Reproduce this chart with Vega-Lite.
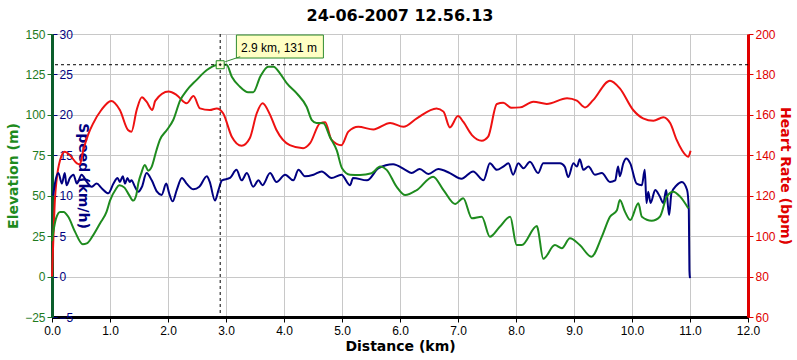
{
"$schema":"https://vega.github.io/schema/vega-lite/v6.json",
"width":696,"height":283,
"autosize":{"type":"none"},
"padding":{"left":52,"top":34,"right":49,"bottom":43},
"background":"white",
"title":{"text":"24-06-2007 12.56.13","font":"DejaVu Sans","fontSize":16,"fontWeight":"bold","color":"#000000","offset":11,"dy":20,"baseline":"alphabetic","anchor":"middle","frame":"group"},
"config":{"view":{"stroke":null}},
"datasets":{
"elev":[{"km":0.0,"elev":22},{"km":0.02,"elev":27},{"km":0.07,"elev":36},{"km":0.14,"elev":40},{"km":0.2,"elev":40},{"km":0.28,"elev":37},{"km":0.4,"elev":27.5},{"km":0.53,"elev":20},{"km":0.6,"elev":20.5},{"km":0.7,"elev":25},{"km":0.83,"elev":33},{"km":0.94,"elev":40},{"km":1.0,"elev":47},{"km":1.1,"elev":54},{"km":1.16,"elev":56.5},{"km":1.25,"elev":55},{"km":1.33,"elev":50.4},{"km":1.4,"elev":47},{"km":1.45,"elev":50},{"km":1.49,"elev":58},{"km":1.54,"elev":64},{"km":1.6,"elev":69},{"km":1.66,"elev":65.5},{"km":1.72,"elev":68},{"km":1.8,"elev":78},{"km":1.86,"elev":84.5},{"km":1.98,"elev":90.6},{"km":2.09,"elev":96.8},{"km":2.21,"elev":109},{"km":2.32,"elev":115},{"km":2.49,"elev":121.5},{"km":2.67,"elev":127.7},{"km":2.84,"elev":130.8},{"km":2.9,"elev":131},{"km":3.01,"elev":131},{"km":3.1,"elev":123.6},{"km":3.24,"elev":117.4},{"km":3.38,"elev":114},{"km":3.47,"elev":114},{"km":3.59,"elev":123.6},{"km":3.73,"elev":129.8},{"km":3.82,"elev":129.8},{"km":3.93,"elev":125.7},{"km":4.05,"elev":119.5},{"km":4.22,"elev":113.3},{"km":4.39,"elev":105},{"km":4.48,"elev":96.8},{"km":4.56,"elev":95},{"km":4.68,"elev":94.8},{"km":4.79,"elev":86.5},{"km":4.91,"elev":78},{"km":5.0,"elev":67},{"km":5.14,"elev":63},{"km":5.31,"elev":62.8},{"km":5.51,"elev":63.9},{"km":5.66,"elev":68},{"km":5.77,"elev":66},{"km":5.94,"elev":55.6},{"km":6.09,"elev":50.4},{"km":6.29,"elev":53.5},{"km":6.57,"elev":61.8},{"km":6.75,"elev":53.5},{"km":6.95,"elev":44.9},{"km":7.09,"elev":48.4},{"km":7.24,"elev":36},{"km":7.41,"elev":37},{"km":7.55,"elev":24.6},{"km":7.72,"elev":30.8},{"km":7.9,"elev":37},{"km":8.01,"elev":19.5},{"km":8.1,"elev":19.5},{"km":8.36,"elev":31.3},{"km":8.38,"elev":29},{"km":8.47,"elev":11},{"km":8.67,"elev":19.5},{"km":8.79,"elev":17.5},{"km":8.93,"elev":23.7},{"km":9.1,"elev":19.5},{"km":9.3,"elev":12.3},{"km":9.48,"elev":24.7},{"km":9.62,"elev":37},{"km":9.74,"elev":41},{"km":9.79,"elev":47.3},{"km":9.88,"elev":40},{"km":9.97,"elev":35},{"km":10.11,"elev":45.3},{"km":10.17,"elev":37},{"km":10.34,"elev":34.5},{"km":10.48,"elev":37},{"km":10.6,"elev":49.4},{"km":10.71,"elev":52.5},{"km":10.83,"elev":49.4},{"km":10.97,"elev":42.2}],
"hr":[{"km":0.0,"hr":80},{"km":0.02,"hr":96},{"km":0.05,"hr":118},{"km":0.08,"hr":128},{"km":0.14,"hr":137.7},{"km":0.22,"hr":141.8},{"km":0.31,"hr":140},{"km":0.43,"hr":136},{"km":0.48,"hr":135.5},{"km":0.54,"hr":142.6},{"km":0.62,"hr":150},{"km":0.71,"hr":155.8},{"km":0.85,"hr":162.4},{"km":1.02,"hr":166.9},{"km":1.17,"hr":162.4},{"km":1.31,"hr":152.5},{"km":1.37,"hr":151.7},{"km":1.46,"hr":162.4},{"km":1.55,"hr":168.7},{"km":1.63,"hr":166.5},{"km":1.73,"hr":162.4},{"km":1.78,"hr":166.9},{"km":2.01,"hr":171.5},{"km":2.15,"hr":169.8},{"km":2.32,"hr":165.7},{"km":2.44,"hr":169.3},{"km":2.55,"hr":163.2},{"km":2.72,"hr":162.4},{"km":2.84,"hr":163.2},{"km":2.95,"hr":160.8},{"km":3.1,"hr":149.2},{"km":3.27,"hr":144.7},{"km":3.41,"hr":148.4},{"km":3.53,"hr":160.8},{"km":3.63,"hr":165.7},{"km":3.76,"hr":160},{"km":3.87,"hr":152.5},{"km":4.1,"hr":145},{"km":4.33,"hr":143.5},{"km":4.45,"hr":146},{"km":4.62,"hr":155.8},{"km":4.71,"hr":156.4},{"km":4.82,"hr":147.6},{"km":4.99,"hr":145},{"km":5.11,"hr":151.7},{"km":5.28,"hr":154.1},{"km":5.54,"hr":152.8},{"km":5.83,"hr":156},{"km":6.06,"hr":154.1},{"km":6.29,"hr":158.3},{"km":6.63,"hr":163.2},{"km":6.75,"hr":161.6},{"km":6.86,"hr":153.8},{"km":7.0,"hr":159.4},{"km":7.09,"hr":156.6},{"km":7.24,"hr":150},{"km":7.41,"hr":147.2},{"km":7.52,"hr":149.2},{"km":7.67,"hr":165.4},{"km":7.78,"hr":166},{"km":7.92,"hr":163.5},{"km":8.07,"hr":163.7},{"km":8.3,"hr":166.5},{"km":8.53,"hr":165.4},{"km":8.88,"hr":168.2},{"km":9.05,"hr":167},{"km":9.19,"hr":163.7},{"km":9.33,"hr":167.3},{"km":9.62,"hr":176.9},{"km":9.79,"hr":173.1},{"km":10.02,"hr":162.4},{"km":10.19,"hr":158.3},{"km":10.37,"hr":157.1},{"km":10.54,"hr":158.8},{"km":10.66,"hr":155.8},{"km":10.77,"hr":147.6},{"km":10.86,"hr":142.6},{"km":10.97,"hr":139.3},{"km":11.01,"hr":142.3}],
"speed":[{"km":0.02,"speed":10.0},{"km":0.05,"speed":11.5},{"km":0.11,"speed":12.8},{"km":0.17,"speed":11.5},{"km":0.22,"speed":12.8},{"km":0.25,"speed":11.3},{"km":0.31,"speed":12.2},{"km":0.37,"speed":12.6},{"km":0.43,"speed":11.5},{"km":0.51,"speed":12.6},{"km":0.6,"speed":11.7},{"km":0.68,"speed":11.1},{"km":0.77,"speed":11.5},{"km":0.86,"speed":10.9},{"km":0.97,"speed":10.3},{"km":1.06,"speed":11.5},{"km":1.13,"speed":12.2},{"km":1.17,"speed":11.7},{"km":1.22,"speed":12.4},{"km":1.26,"speed":11.5},{"km":1.3,"speed":12.2},{"km":1.34,"speed":11.7},{"km":1.37,"speed":11.9},{"km":1.43,"speed":11.1},{"km":1.49,"speed":10.5},{"km":1.55,"speed":11.1},{"km":1.63,"speed":12.8},{"km":1.72,"speed":11.9},{"km":1.81,"speed":10.5},{"km":1.89,"speed":10.1},{"km":1.97,"speed":11.5},{"km":2.02,"speed":10.3},{"km":2.08,"speed":9.3},{"km":2.15,"speed":10.7},{"km":2.24,"speed":12.2},{"km":2.32,"speed":11.5},{"km":2.44,"speed":10.8},{"km":2.54,"speed":11.1},{"km":2.67,"speed":12.4},{"km":2.72,"speed":11.7},{"km":2.81,"speed":9.4},{"km":2.87,"speed":10.7},{"km":2.93,"speed":11.9},{"km":3.07,"speed":12.2},{"km":3.18,"speed":13.2},{"km":3.27,"speed":11.9},{"km":3.36,"speed":12.8},{"km":3.47,"speed":11.1},{"km":3.56,"speed":11.9},{"km":3.63,"speed":11.3},{"km":3.76,"speed":12.8},{"km":3.87,"speed":11.7},{"km":4.02,"speed":12.6},{"km":4.16,"speed":11.9},{"km":4.25,"speed":13.2},{"km":4.36,"speed":12.4},{"km":4.51,"speed":12.6},{"km":4.65,"speed":13.0},{"km":4.82,"speed":12.2},{"km":4.99,"speed":12.6},{"km":5.14,"speed":11.3},{"km":5.19,"speed":12.2},{"km":5.43,"speed":11.9},{"km":5.63,"speed":13.4},{"km":5.88,"speed":13.9},{"km":6.09,"speed":13.2},{"km":6.2,"speed":12.8},{"km":6.34,"speed":13.3},{"km":6.49,"speed":12.7},{"km":6.66,"speed":13.3},{"km":6.86,"speed":12.8},{"km":7.06,"speed":12.1},{"km":7.26,"speed":13.0},{"km":7.44,"speed":11.9},{"km":7.55,"speed":14.0},{"km":7.67,"speed":13.2},{"km":7.78,"speed":13.6},{"km":7.87,"speed":14.0},{"km":7.95,"speed":12.6},{"km":8.04,"speed":14.0},{"km":8.13,"speed":13.4},{"km":8.24,"speed":14.2},{"km":8.38,"speed":12.8},{"km":8.47,"speed":14.0},{"km":8.76,"speed":14.0},{"km":8.84,"speed":13.6},{"km":8.9,"speed":12.3},{"km":8.99,"speed":14.0},{"km":9.05,"speed":13.6},{"km":9.1,"speed":14.5},{"km":9.16,"speed":13.2},{"km":9.25,"speed":13.6},{"km":9.36,"speed":12.6},{"km":9.48,"speed":12.8},{"km":9.62,"speed":11.7},{"km":9.71,"speed":11.9},{"km":9.76,"speed":13.6},{"km":9.79,"speed":12.4},{"km":9.85,"speed":14.0},{"km":9.9,"speed":14.6},{"km":9.97,"speed":14.0},{"km":10.08,"speed":11.5},{"km":10.17,"speed":11.3},{"km":10.22,"speed":13.2},{"km":10.25,"speed":9.1},{"km":10.28,"speed":10.5},{"km":10.32,"speed":9.1},{"km":10.4,"speed":10.7},{"km":10.48,"speed":9.9},{"km":10.54,"speed":9.1},{"km":10.59,"speed":10.7},{"km":10.64,"speed":7.6},{"km":10.68,"speed":10.3},{"km":10.77,"speed":11.3},{"km":10.86,"speed":11.7},{"km":10.95,"speed":10.7},{"km":10.98,"speed":8.2},{"km":10.99,"speed":0.8},{"km":11.0,"speed":-0.2}],
"marker":[{"km":2.9,"elev":131,"label":"2.9 km, 131 m"}]
},
"layer":[
{"data":{"name":"hr"},
 "mark":{"type":"line","color":"#ee1111","strokeWidth":2,"interpolate":"monotone"},
 "encoding":{
  "x":{"field":"km","type":"quantitative","scale":{"domain":[0,12],"nice":false,"zero":false},
   "axis":{"orient":"bottom","values":[0,1,2,3,4,5,6,7,8,9,10,11,12],"format":".1f","title":"Distance (km)","grid":true,"gridColor":"#c8c8c8","domainColor":"#000000","domainWidth":3,"tickColor":"#000000","tickSize":5,"labelColor":"#000000","labelFont":"Liberation Sans","labelFontSize":12,"labelPadding":3,"labelFlush":false,"labelOverlap":false,"titleFont":"DejaVu Sans","titleFontSize":14,"titleFontWeight":"bold","titleColor":"#000000","titlePadding":3}},
  "y":{"field":"hr","type":"quantitative","scale":{"domain":[60,200],"nice":false,"zero":false},
   "axis":{"orient":"right","values":[60,80,100,120,140,160,180,200],"title":"Heart Rate (bpm)","grid":false,"domainColor":"#e00000","domainWidth":3,"tickColor":"#e00000","tickSize":5,"labelColor":"#e00000","labelFont":"Liberation Sans","labelFontSize":12,"labelPadding":2,"labelFlush":false,"titleFont":"DejaVu Sans","titleFontSize":14,"titleFontWeight":"bold","titleColor":"#e00000","titlePadding":2}}}},
{"data":{"name":"speed"},
 "mark":{"type":"line","color":"#000080","strokeWidth":2,"interpolate":"monotone"},
 "encoding":{
  "x":{"field":"km","type":"quantitative","scale":{"domain":[0,12],"nice":false,"zero":false},
   "axis":{"orient":"bottom","values":[0,1,2,3,4,5,6,7,8,9,10,11,12],"format":".1f","title":"Distance (km)","grid":true,"gridColor":"#c8c8c8","domainColor":"#000000","domainWidth":3,"tickColor":"#000000","tickSize":5,"labelColor":"#000000","labelFont":"Liberation Sans","labelFontSize":12,"labelPadding":3,"labelFlush":false,"labelOverlap":false,"titleFont":"DejaVu Sans","titleFontSize":14,"titleFontWeight":"bold","titleColor":"#000000","titlePadding":3}},
  "y":{"field":"speed","type":"quantitative","scale":{"domain":[-5,30],"nice":false,"zero":false},
   "axis":{"orient":"right","offset":-696,"values":[-5,0,5,10,15,20,25,30],"title":"Speed (km/h)","grid":false,"domain":false,"tickColor":"#000080","tickSize":5,"labelColor":"#000080","labelFont":"Liberation Sans","labelFontSize":12,"labelPadding":2,"labelFlush":false,"titleFont":"DejaVu Sans","titleFontSize":14,"titleFontWeight":"bold","titleColor":"#000080","titlePadding":3}}}},
{"data":{"name":"marker"},
 "mark":{"type":"rule","color":"#000000","strokeWidth":1,"strokeDash":[3,3]},
 "encoding":{"x":{"field":"km","type":"quantitative","scale":{"domain":[0,12],"nice":false,"zero":false},
   "axis":{"orient":"bottom","values":[0,1,2,3,4,5,6,7,8,9,10,11,12],"format":".1f","title":"Distance (km)","grid":true,"gridColor":"#c8c8c8","domainColor":"#000000","domainWidth":3,"tickColor":"#000000","tickSize":5,"labelColor":"#000000","labelFont":"Liberation Sans","labelFontSize":12,"labelPadding":3,"labelFlush":false,"labelOverlap":false,"titleFont":"DejaVu Sans","titleFontSize":14,"titleFontWeight":"bold","titleColor":"#000000","titlePadding":3}}}},
{"encoding":{"y":{"field":"elev","type":"quantitative","scale":{"domain":[-25,150],"nice":false,"zero":false},
   "axis":{"orient":"left","values":[-25,0,25,50,75,100,125,150],"title":"Elevation (m)","grid":true,"gridColor":"#c8c8c8","domainColor":"#0b5e2b","domainWidth":3,"tickColor":"#1e7a1e","tickSize":5,"labelColor":"#1e7a1e","labelFont":"Liberation Sans","labelFontSize":12,"labelPadding":2,"labelFlush":false,"titleFont":"DejaVu Sans","titleFontSize":14,"titleFontWeight":"bold","titleColor":"#1e8b1e","titlePadding":4}}},
 "layer":[
  {"data":{"name":"elev"},"mark":{"type":"line","color":"#1e8b1e","strokeWidth":2,"interpolate":"monotone"},
   "encoding":{"x":{"field":"km","type":"quantitative","scale":{"domain":[0,12],"nice":false,"zero":false},
   "axis":{"orient":"bottom","values":[0,1,2,3,4,5,6,7,8,9,10,11,12],"format":".1f","title":"Distance (km)","grid":true,"gridColor":"#c8c8c8","domainColor":"#000000","domainWidth":3,"tickColor":"#000000","tickSize":5,"labelColor":"#000000","labelFont":"Liberation Sans","labelFontSize":12,"labelPadding":3,"labelFlush":false,"labelOverlap":false,"titleFont":"DejaVu Sans","titleFontSize":14,"titleFontWeight":"bold","titleColor":"#000000","titlePadding":3}}}},
  {"data":{"name":"marker"},"mark":{"type":"rule","color":"#000000","strokeWidth":1,"strokeDash":[3,3]},"encoding":{}},
  {"data":{"name":"marker"},"mark":{"type":"rect","width":87,"height":23,"xOffset":59.7,"yOffset":-18.2,"fill":"#ffffc4","stroke":"#2e8b2e","strokeWidth":1},
   "encoding":{"x":{"field":"km","type":"quantitative","scale":{"domain":[0,12],"nice":false,"zero":false},
   "axis":{"orient":"bottom","values":[0,1,2,3,4,5,6,7,8,9,10,11,12],"format":".1f","title":"Distance (km)","grid":true,"gridColor":"#c8c8c8","domainColor":"#000000","domainWidth":3,"tickColor":"#000000","tickSize":5,"labelColor":"#000000","labelFont":"Liberation Sans","labelFontSize":12,"labelPadding":3,"labelFlush":false,"labelOverlap":false,"titleFont":"DejaVu Sans","titleFontSize":14,"titleFontWeight":"bold","titleColor":"#000000","titlePadding":3}}}},
  {"data":{"name":"marker"},"mark":{"type":"rule","color":"#2e8b2e","strokeWidth":1,"xOffset":5,"yOffset":-3,"x2Offset":20,"y2Offset":-8},
   "encoding":{"x":{"field":"km","type":"quantitative","scale":{"domain":[0,12],"nice":false,"zero":false},
   "axis":{"orient":"bottom","values":[0,1,2,3,4,5,6,7,8,9,10,11,12],"format":".1f","title":"Distance (km)","grid":true,"gridColor":"#c8c8c8","domainColor":"#000000","domainWidth":3,"tickColor":"#000000","tickSize":5,"labelColor":"#000000","labelFont":"Liberation Sans","labelFontSize":12,"labelPadding":3,"labelFlush":false,"labelOverlap":false,"titleFont":"DejaVu Sans","titleFontSize":14,"titleFontWeight":"bold","titleColor":"#000000","titlePadding":3}},"x2":{"field":"km"},"y2":{"field":"elev"}}},
  {"data":{"name":"marker"},"mark":{"type":"point","shape":"square","size":64,"filled":true,"fill":"#ffffe0","stroke":"#1e8b1e","strokeWidth":1,"opacity":1},
   "encoding":{"x":{"field":"km","type":"quantitative","scale":{"domain":[0,12],"nice":false,"zero":false},
   "axis":{"orient":"bottom","values":[0,1,2,3,4,5,6,7,8,9,10,11,12],"format":".1f","title":"Distance (km)","grid":true,"gridColor":"#c8c8c8","domainColor":"#000000","domainWidth":3,"tickColor":"#000000","tickSize":5,"labelColor":"#000000","labelFont":"Liberation Sans","labelFontSize":12,"labelPadding":3,"labelFlush":false,"labelOverlap":false,"titleFont":"DejaVu Sans","titleFontSize":14,"titleFontWeight":"bold","titleColor":"#000000","titlePadding":3}}}},
  {"data":{"name":"marker"},"mark":{"type":"point","shape":"M-0.5,0H0.5M0,-0.5V0.5","size":30,"filled":false,"stroke":"#000000","strokeWidth":1,"opacity":1},
   "encoding":{"x":{"field":"km","type":"quantitative","scale":{"domain":[0,12],"nice":false,"zero":false},
   "axis":{"orient":"bottom","values":[0,1,2,3,4,5,6,7,8,9,10,11,12],"format":".1f","title":"Distance (km)","grid":true,"gridColor":"#c8c8c8","domainColor":"#000000","domainWidth":3,"tickColor":"#000000","tickSize":5,"labelColor":"#000000","labelFont":"Liberation Sans","labelFontSize":12,"labelPadding":3,"labelFlush":false,"labelOverlap":false,"titleFont":"DejaVu Sans","titleFontSize":14,"titleFontWeight":"bold","titleColor":"#000000","titlePadding":3}}}},
  {"data":{"name":"marker"},"mark":{"type":"text","align":"left","baseline":"alphabetic","dx":20.8,"dy":-12.7,"font":"Liberation Sans","fontSize":12,"color":"#000000"},
   "encoding":{"x":{"field":"km","type":"quantitative","scale":{"domain":[0,12],"nice":false,"zero":false},
   "axis":{"orient":"bottom","values":[0,1,2,3,4,5,6,7,8,9,10,11,12],"format":".1f","title":"Distance (km)","grid":true,"gridColor":"#c8c8c8","domainColor":"#000000","domainWidth":3,"tickColor":"#000000","tickSize":5,"labelColor":"#000000","labelFont":"Liberation Sans","labelFontSize":12,"labelPadding":3,"labelFlush":false,"labelOverlap":false,"titleFont":"DejaVu Sans","titleFontSize":14,"titleFontWeight":"bold","titleColor":"#000000","titlePadding":3}},"text":{"field":"label"}}}
 ]}
],
"resolve":{"scale":{"y":"independent"},"axis":{"y":"independent"}}
}
